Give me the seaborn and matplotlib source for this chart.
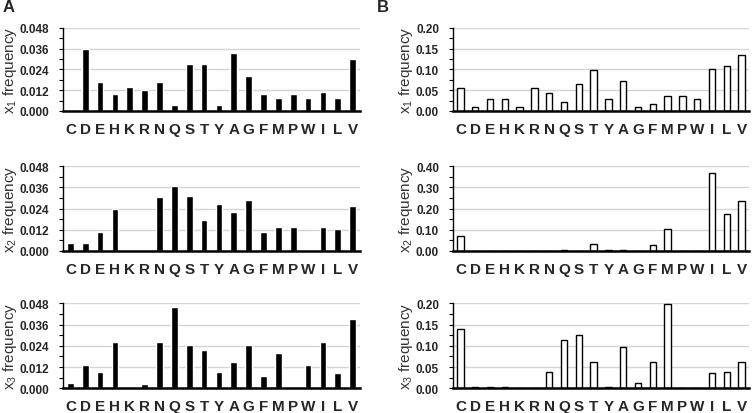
import numpy as np
import pandas as pd
import matplotlib
matplotlib.use("Agg")
import matplotlib.pyplot as plt
from matplotlib.ticker import MultipleLocator, FormatStrFormatter
import seaborn as sns

residues = list("CDEHKRNQSTYAGFMPWILV")

# panel A (filled bars)
a_x1 = [0, 0.036, 0.0165, 0.010, 0.0136, 0.012, 0.0165, 0.0035, 0.027, 0.027,
        0.0035, 0.0336, 0.0204, 0.010, 0.0073, 0.010, 0.0073, 0.0108, 0.0073, 0.0298]
a_x2 = [0.0042, 0.0042, 0.0108, 0.0239, 0, 0, 0.0304, 0.0368, 0.0313, 0.0175,
        0.0266, 0.022, 0.0286, 0.0108, 0.0135, 0.0135, 0, 0.0135, 0.0125, 0.0256]
a_x3 = [0.0032, 0.0133, 0.0094, 0.0261, 0, 0.0023, 0.0261, 0.0457, 0.0246, 0.0214,
        0.0094, 0.015, 0.0246, 0.0068, 0.0197, 0, 0.0133, 0.0261, 0.0086, 0.0393]

# panel B (open bars)
b_x1 = [0.055, 0.0096, 0.0287, 0.0287, 0.0096, 0.055, 0.0438, 0.0207, 0.0638, 0.0988,
        0.0287, 0.071, 0.0096, 0.0175, 0.0367, 0.0367, 0.0287, 0.102, 0.107, 0.134]
b_x2 = [0.072, 0, 0, 0, 0, 0, 0, 0.004, 0, 0.033,
        0.003, 0.003, 0, 0.025, 0.102, 0, 0, 0.366, 0.172, 0.234]
b_x3 = [0.140, 0.003, 0.003, 0.003, 0, 0, 0.039, 0.113, 0.125, 0.063,
        0.003, 0.098, 0.0125, 0.063, 0.198, 0, 0, 0.036, 0.039, 0.063]

sns.set_style("white")
plt.rcParams["font.family"] = ["Liberation Sans", "DejaVu Sans"]

W, H = 753, 414
fig = plt.figure(figsize=(W / 100, H / 100), dpi=100)


def place(left, right, top, bottom):
    return fig.add_axes([left / W, 1 - bottom / H, (right - left) / W, (bottom - top) / H])


rows = [(28.7, 112), (167.3, 251.7), (304.3, 389.3)]
panels = [
    # (values, column, ymax, step, fmt, subscript)
    (a_x1, "A", 0.048, 0.012, "%.3f", 1),
    (a_x2, "A", 0.048, 0.012, "%.3f", 2),
    (a_x3, "A", 0.048, 0.012, "%.3f", 3),
    (b_x1, "B", 0.20, 0.05, "%.2f", 1),
    (b_x2, "B", 0.40, 0.10, "%.2f", 2),
    (b_x3, "B", 0.20, 0.05, "%.2f", 3),
]

for vals, col, ymax, step, fmt, n in panels:
    top, bottom = rows[n - 1]
    if col == "A":
        ax = place(63, 360, top, bottom)
        sns.barplot(x=residues, y=vals, order=residues, color="black",
                    width=0.45, ax=ax)
        label_px = 10
    else:
        ax = place(453, 749, top, bottom)
        sns.barplot(x=residues, y=vals, order=residues, color="white",
                    edgecolor="black", linewidth=1, width=0.42, ax=ax)
        label_px = 406

    ax.set_ylim(0, ymax)
    ax.set_xlim(-0.5, 19.5)
    ax.yaxis.set_major_locator(MultipleLocator(step))
    ax.yaxis.set_minor_locator(MultipleLocator(step / 2))
    ax.yaxis.set_major_formatter(FormatStrFormatter(fmt))
    ax.yaxis.grid(True, color="#d4d4d4", linewidth=1)
    ax.set_axisbelow(True)

    for s in ["top", "right"]:
        ax.spines[s].set_visible(False)
    ax.spines["left"].set_color("black")
    ax.spines["left"].set_linewidth(1)
    ax.spines["bottom"].set_color("black")
    ax.spines["bottom"].set_linewidth(1.8)

    ax.tick_params(axis="y", which="both", left=True, length=3, width=0.8,
                   color="black", pad=7, labelsize=8.5)
    ax.tick_params(axis="x", length=0, pad=8, labelsize=11)
    for t in ax.get_yticklabels():
        t.set_fontweight("bold")
    for t in ax.get_xticklabels():
        t.set_fontweight("bold")

    ax.set_xlabel("")
    ax.set_ylabel("")
    fig.text(label_px / W, 1 - (top + bottom) / 2 / H,
             "x$_\\mathregular{%d}$ frequency" % n, fontsize=11, color="#333333",
             rotation=90, ha="center", va="center")

fig.text(9 / W, 1 - 8 / H, "A", fontsize=12, fontweight="bold", ha="center", va="center")
fig.text(383 / W, 1 - 8 / H, "B", fontsize=12, fontweight="bold", ha="center", va="center")

plt.savefig("out.png", dpi=100)
